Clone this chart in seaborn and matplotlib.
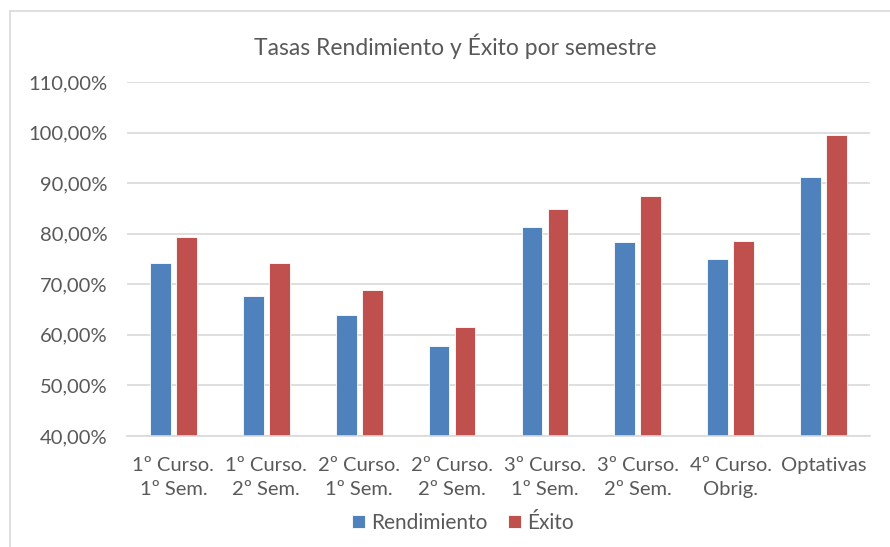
import matplotlib
matplotlib.use("Agg")
import matplotlib.pyplot as plt
from matplotlib.lines import Line2D
from matplotlib.ticker import FuncFormatter, MultipleLocator
import seaborn as sns
import pandas as pd

# Data
categorias = ["1º Curso.\n1º Sem.", "1º Curso.\n2º Sem.", "2º Curso.\n1º Sem.",
              "2º Curso.\n2º Sem.", "3º Curso.\n1º Sem.", "3º Curso.\n2º Sem.",
              "4º Curso.\nObrig.", "Optativas"]
rendimiento = [0.743, 0.676, 0.640, 0.578, 0.813, 0.783, 0.750, 0.912]
exito = [0.794, 0.743, 0.688, 0.616, 0.849, 0.875, 0.785, 0.995]
series = ["Rendimiento", "Éxito"]
colores = ["#4F81BD", "#C0504D"]

df = pd.DataFrame({
    "categoria": categorias * 2,
    "serie": [series[0]] * len(categorias) + [series[1]] * len(categorias),
    "valor": rendimiento + exito,
})

sns.set_theme(style="white")
plt.rcParams["font.family"] = ["Lato", "DejaVu Sans"]
gris = "#595959"
fs = 14.5

fig = plt.figure(figsize=(8.9, 5.47), dpi=100)
ax = fig.add_axes([127 / 890, 1 - 436 / 547, 743 / 890, 354 / 547])

sns.barplot(data=df, x="categoria", y="valor", hue="serie", palette=colores,
            width=0.56, gap=0.2, saturation=1, edgecolor="white", linewidth=0.6,
            ax=ax, legend=True)

ax.set_ylim(0.4, 1.1)
ax.yaxis.set_major_locator(MultipleLocator(0.1))
ax.yaxis.set_major_formatter(FuncFormatter(lambda v, p: f"{v * 100:.2f}%".replace(".", ",")))
ax.grid(axis="y", color="#D9D9D9", linewidth=1.2)
ax.set_axisbelow(True)
for s in ["top", "right", "left"]:
    ax.spines[s].set_visible(False)
ax.spines["bottom"].set_color("#D9D9D9")
ax.spines["bottom"].set_linewidth(1.2)
ax.set_xlabel("")
ax.set_ylabel("")
ax.tick_params(axis="y", length=0, pad=14, labelsize=fs, labelcolor=gris)
ax.tick_params(axis="x", length=0, pad=15, labelsize=fs, labelcolor=gris)
for lbl in ax.get_xticklabels():
    lbl.set_linespacing(1.5)

handles, labels = ax.get_legend_handles_labels()
ax.legend_.remove()
fig.legend(handles, labels, loc="center", bbox_to_anchor=(463 / 890, 1 - 523 / 547),
           ncol=2, frameon=False, fontsize=15, labelcolor=gris,
           handlelength=0.6, handleheight=0.6, handletextpad=0.3, columnspacing=1.0)

fig.text(455 / 890, 1 - 46 / 547, "Tasas Rendimiento y Éxito por semestre",
         ha="center", va="center", fontsize=16.5, color=gris)

# chart frame (top and left edges visible)
fig.add_artist(Line2D([10 / 890, 10 / 890], [0, 1 - 11 / 547], transform=fig.transFigure,
                      color="#D9D9D9", linewidth=1.2))
fig.add_artist(Line2D([10 / 890, 1], [1 - 11 / 547, 1 - 11 / 547], transform=fig.transFigure,
                      color="#D9D9D9", linewidth=1.2))

fig.savefig("out.png", dpi=100)
